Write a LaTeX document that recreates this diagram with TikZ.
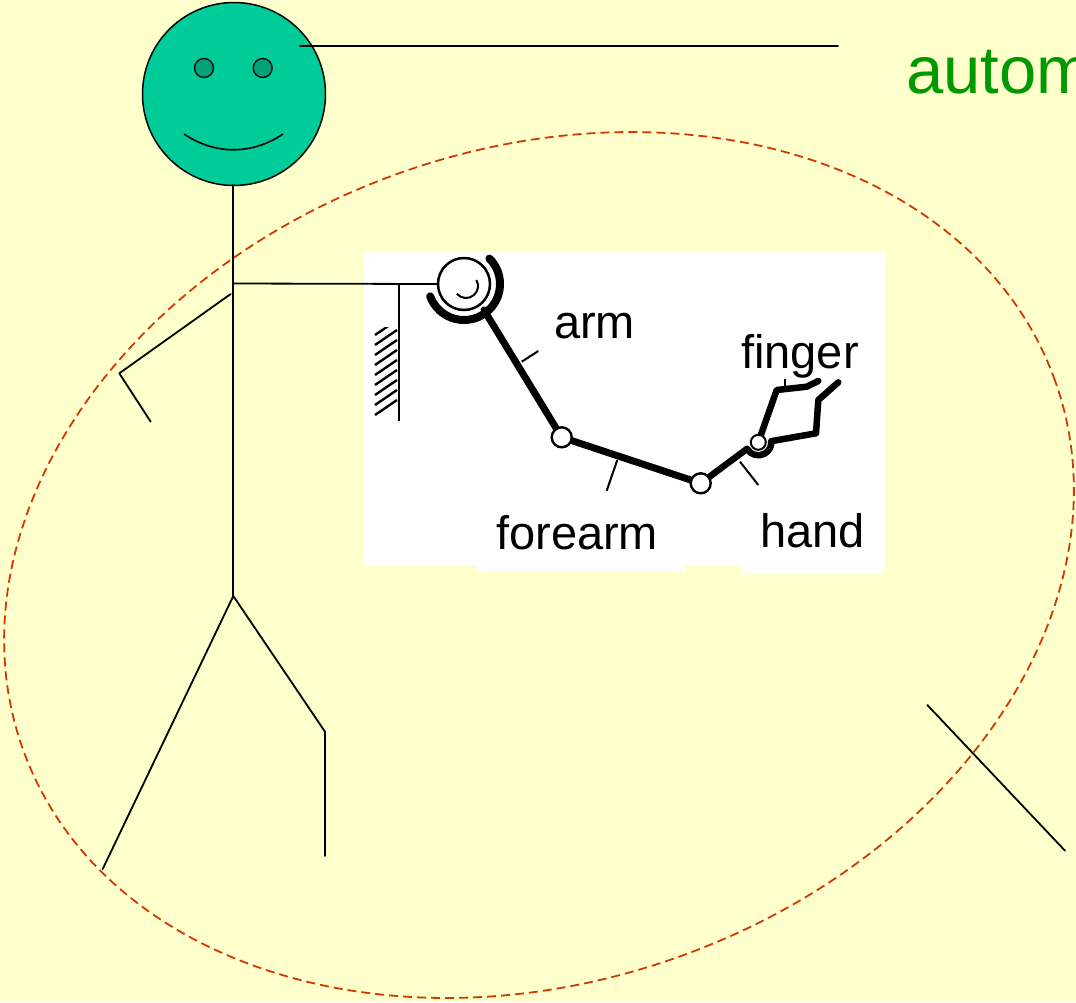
\documentclass[tikz,border=0pt]{standalone}
\usepackage{fontspec}
\setmainfont{Liberation Sans}
\usetikzlibrary{calc}

\definecolor{bg}{RGB}{255,255,204}
\definecolor{face}{RGB}{0,204,153}
\definecolor{eyecol}{RGB}{0,160,120}
\definecolor{ringcol}{RGB}{208,56,6}
\definecolor{titlegreen}{RGB}{0,153,0}

\begin{document}
\begin{tikzpicture}[x=1pt,y=1pt,
  stick/.style={line width=1.8pt, black, line cap=round, line join=round},
  rod/.style={line width=7pt, line cap=round, line join=round},
  fingerrod/.style={line width=6.5pt, line cap=round, line join=round},
  tick/.style={line width=2pt},
  joint/.style={circle, draw, line width=2.4pt, fill=white, inner sep=0pt},
  partlabel/.style={font=\fontsize{47}{56}\selectfont, anchor=base west, inner sep=0pt},
]
% page and background
\fill[bg] (0,0) rectangle (1076,-1002);
\useasboundingbox (0,0) rectangle (1076,-1002);

% white panel behind the arm mechanism
\fill[white] (364,-252) rectangle (885,-565);
\fill[white] (478,-564) rectangle (686,-571);
\fill[white] (741,-564) rectangle (884,-573);

% head
\node[circle, draw, line width=1.5pt, fill=face, minimum size=183pt, inner sep=0pt] (head) at (234,-94) {};
\node[circle, draw, line width=1.3pt, fill=eyecol, minimum size=19pt, inner sep=0pt] (eyeL) at (204,-68) {};
\node[circle, draw, line width=1.3pt, fill=eyecol, minimum size=19pt, inner sep=0pt] (eyeR) at (262.7,-68) {};
\draw[line width=1.6pt] (184,-134) .. controls (215,-155) and (252,-155) .. (283,-134);

% title pointer and title
\coordinate (headpin) at (300,-45.7);
\coordinate (titlepin) at (838,-45.7);
\draw[stick] (headpin) -- (titlepin);
\node[font=\fontsize{67}{80}\selectfont, text=titlegreen, anchor=base west, inner sep=0pt] (title) at (906,-93) {autom};

% stick body
\coordinate (neck) at (233.3,-185);
\coordinate (shoulder) at (233.3,-283.5);
\coordinate (hip) at (233.3,-596);
\coordinate (armtop) at (230.7,-294);
\coordinate (elbowL) at (119.3,-373.3);
\coordinate (handL) at (150.7,-421.7);
\coordinate (footL) at (102.7,-869);
\coordinate (kneeR) at (325,-731.7);
\coordinate (footR) at (325,-856);
\draw[stick] (neck) -- (hip);
\draw[stick] (armtop) -- (elbowL) -- (handL);
\draw[stick] (footL) -- (hip) -- (kneeR) -- (footR);

% loose stroke at the lower right
\coordinate (cutA) at (927.3,-705);
\coordinate (cutB) at (1065,-850.7);
\draw[stick] (cutA) -- (cutB);

% dashed boundary
\draw[ringcol, line width=1.8pt, dash pattern=on 9pt off 5pt, rotate around={19.6:(539,-565)}]
  (539,-565) ellipse [x radius=548, y radius=416];

% joint positions of the mechanism
\coordinate (sc) at (464,-284);
\coordinate (elbowc) at (561.7,-437.3);
\coordinate (wristc) at (700.7,-483.3);
\coordinate (fingerc) at (758.3,-442.3);

% fixed wall with hatching
\coordinate (wallTop) at (399,-283.5);
\coordinate (wallBot) at (399,-421);
\draw[line width=2.4pt] (wallTop) -- (wallBot);
\begin{scope}
  \clip (374,-327) rectangle (398,-421);
  \foreach \i in {0,...,8}
    \draw[line width=2.4pt] (375,-335-10*\i) -- (397,-320-10*\i);
\end{scope}

% shoulder socket and links
\draw[line width=8pt, line cap=round] ($(sc)+(45:36)$) arc[start angle=45, end angle=-160, radius=36];
\draw[rod] (484,-310) -- (elbowc);
\draw[rod] (elbowc) -- (wristc);
\draw[fingerrod] (wristc) -- ($(fingerc)+(210:13)$) arc[start angle=210, end angle=365, radius=13]
  -- (816,-433.3) -- (818.3,-400) -- (838.3,-382.3);
\draw[fingerrod] (fingerc) -- (776.7,-390) -- (806.7,-386.7) -- (818.3,-381);

% joints
\node[joint, line width=2.5pt, minimum size=52pt] (sjoint) at (sc) {};
\draw[line width=2pt] ($(466,-286)+(220:12)$) arc[start angle=220, end angle=390, radius=12];
\node[joint, minimum size=20pt] (elbow) at (elbowc) {};
\node[joint, minimum size=20pt] (wrist) at (wristc) {};
\node[joint, line width=2pt, minimum size=15pt] (fjoint) at (fingerc) {};

% link from the figure's shoulder to the mechanism
\draw[stick] (shoulder) -- (sjoint.west);

% label ticks
\draw[tick] (521.7,-361.7) -- (538.3,-351);
\draw[tick] (617.3,-460) -- (606.7,-490.7);
\draw[tick] (740,-461.7) -- (758.3,-485);
\draw[tick] (785,-379) -- (785,-389);

% labels
\node[partlabel] (arm) at (554,-338) {arm};
\node[partlabel] (finger) at (741,-368) {finger};
\node[partlabel] (forearm) at (496,-549) {forearm};
\node[partlabel] (hand) at (760,-547) {hand};
\end{tikzpicture}
\end{document}
